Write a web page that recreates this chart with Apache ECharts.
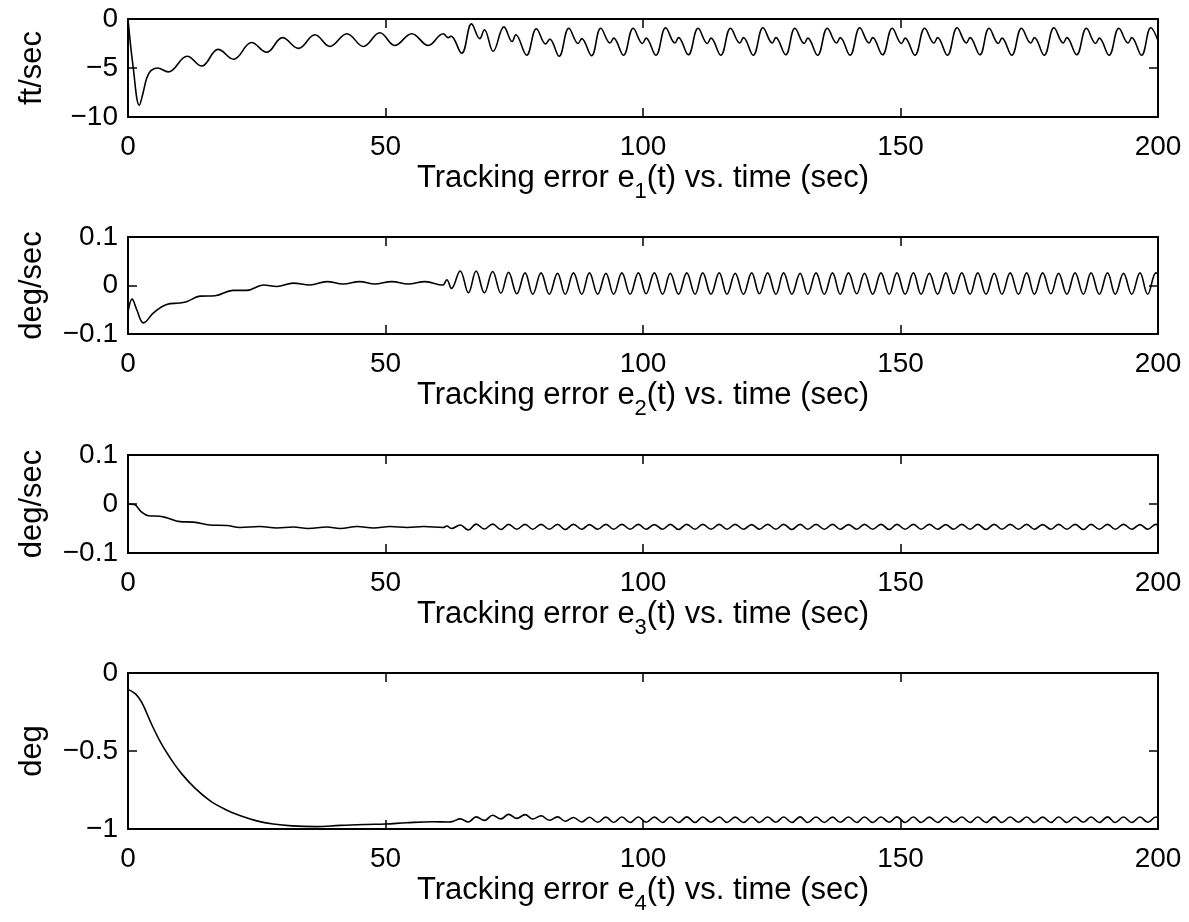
<!DOCTYPE html>
<html>
<head>
<meta charset="utf-8">
<script src="https://cdn.jsdelivr.net/npm/echarts@6/dist/echarts.min.js"></script>
<style>html,body{margin:0;padding:0;background:#fff}#chart{width:1189px;height:922px}</style>
</head>
<body>
<div id="chart"></div>
<script>
// ---------------- data ----------------
const xTickValues = [0, 50, 100, 150, 200];
const yNames = ['ft/sec', 'deg/sec', 'deg/sec', 'deg'];
const xNames = [
  'Tracking error e{s|1}(t) vs. time (sec)',
  'Tracking error e{s|2}(t) vs. time (sec)',
  'Tracking error e{s|3}(t) vs. time (sec)',
  'Tracking error e{s|4}(t) vs. time (sec)'
];
const yMins = [-10, -0.1, -0.1, -1];
const yMaxs = [0, 0.1, 0.1, 0];
const yIntervals = [5, 0.1, 0.1, 0.5];

// e1 (ft/sec): [time, value]
const e1Data = [
  [0,0],[1.0,-4.9],[2.2,-8.8],[2.9,-7.6],[3.6,-6.1],[4.4,-5.3],[5.7,-5.0],[7.8,-5.4],[11.5,-3.8],[14.3,-4.8],
  [17.5,-3.1],[20.5,-4.1],[24.0,-2.4],[26.9,-3.4],[30.0,-1.9],[33.1,-3.0],[36.3,-1.6],[39.2,-2.8],
  [42.5,-1.5],[45.7,-2.8],[48.9,-1.4],[51.8,-2.7],[55.1,-1.5],[58.3,-2.7],[61.2,-1.5],[62.2,-1.9],
  [62.7,-1.75],[64.8,-3.5],
  [66.7,-0.5],[68.3,-2.0],[69.2,-1.1],[70.9,-3.3],
  [73.0,-0.8],[74.6,-2.3],[75.3,-1.6],[77.4,-3.7],
  [79.3,-1.0],[81.1,-2.55],[81.9,-2.05],[83.7,-3.8],
  [85.6,-0.95],[87.4,-2.5],[88.1,-2.0],[90.0,-3.75],
  [91.8,-0.95],[93.6,-2.45],[94.3,-1.95],[96.2,-3.7],
  [98.1,-0.95],[99.9,-2.5],[100.6,-1.95],[102.5,-3.7],
  [104.4,-0.9],[106.2,-2.45],[106.9,-1.9],[108.8,-3.65],
  [110.7,-0.95],[112.5,-2.5],[113.2,-1.95],[115.1,-3.7],
  [117.0,-0.95],[118.8,-2.45],[119.5,-1.9],[121.4,-3.7],
  [123.3,-0.9],[125.1,-2.45],[125.8,-1.9],[127.7,-3.65],
  [129.5,-0.95],[131.3,-2.5],[132.0,-1.95],[133.9,-3.7],
  [135.8,-0.95],[137.6,-2.45],[138.3,-1.9],[140.2,-3.7],
  [142.1,-0.9],[143.9,-2.45],[144.6,-1.9],[146.5,-3.65],
  [148.4,-0.95],[150.2,-2.5],[150.9,-1.95],[152.8,-3.7],
  [154.7,-0.95],[156.5,-2.45],[157.2,-1.9],[159.1,-3.7],
  [161.0,-0.9],[162.8,-2.45],[163.5,-1.9],[165.4,-3.65],
  [167.2,-0.95],[169.0,-2.5],[169.7,-1.95],[171.6,-3.7],
  [173.5,-0.95],[175.3,-2.45],[176.0,-1.9],[177.9,-3.7],
  [179.8,-0.9],[181.6,-2.45],[182.3,-1.9],[184.2,-3.65],
  [186.1,-0.95],[187.9,-2.5],[188.6,-1.95],[190.5,-3.7],
  [192.4,-0.95],[194.2,-2.45],[194.9,-1.9],[196.8,-3.7],
  [198.6,-0.9],[200,-2.2]
];

// slow start of e2, e3, e4: [time, value]
const e2Head = [
  [0,-0.055],[0.8,-0.028],[1.7,-0.05],[3.0,-0.077],[5.0,-0.056],[7.5,-0.039],[10.0,-0.036],[11.5,-0.033],
  [14.0,-0.022],[16.9,-0.021],[20.4,-0.01],[23.0,-0.01],[26.3,0.001],[28.9,-0.002],[32.1,0.005],
  [35.3,0.001],[38.6,0.008],[41.8,0.003],[45.0,0.008],[47.9,0.003],[51.2,0.008],[54.4,0.003],
  [57.7,0.008],[61.1,0.001],[61.9,0.012],[62.8,-0.006]
];
const e3Head = [
  [0,0.0],[1.2,-0.001],[2.6,-0.016],[4.0,-0.024],[6.2,-0.025],[7.5,-0.028],[10.1,-0.036],[12.7,-0.037],
  [15.9,-0.043],[19.2,-0.044],[21.7,-0.048],[25.6,-0.046],[28.9,-0.049],[32.1,-0.047],[35.0,-0.05],
  [38.6,-0.047],[41.2,-0.05],[44.5,-0.046],[47.7,-0.049],[50.9,-0.046],[54.2,-0.048],[57.4,-0.046],
  [61.2,-0.048],[61.9,-0.045],[62.8,-0.05]
];
const e4Head = [
  [0,-0.105],[1.5,-0.135],[2.7,-0.19],[4.6,-0.33],[6.5,-0.455],[8.5,-0.56],[10.4,-0.645],[13.0,-0.738],
  [15.9,-0.818],[18.8,-0.873],[21.7,-0.914],[25.0,-0.948],[28.2,-0.968],[31.8,-0.98],[36.6,-0.985],
  [41.2,-0.977],[46.3,-0.971],[50.0,-0.968],[54.1,-0.96],[59.3,-0.954],[62.2,-0.955],[63.1,-0.951]
];

// times of the peaks / troughs of the steady oscillation (shared by e2, e3, e4)
const waveT = [
  64.5, 66.1, 67.6, 69.2, 70.8, 72.4, 73.9, 75.5, 77.1, 78.6,
  80.2, 81.8, 83.4, 84.9, 86.5, 88.1, 89.6, 91.2, 92.8, 94.3,
  95.9, 97.5, 99.1, 100.6, 102.2, 103.8, 105.3, 106.9, 108.5, 110.1,
  111.6, 113.2, 114.8, 116.3, 117.9, 119.5, 121.1, 122.6, 124.2, 125.8,
  127.3, 128.9, 130.5, 132.0, 133.6, 135.2, 136.8, 138.3, 139.9, 141.5,
  143.0, 144.6, 146.2, 147.8, 149.3, 150.9, 152.5, 154.0, 155.6, 157.2,
  158.8, 160.3, 161.9, 163.5, 165.0, 166.6, 168.2, 169.7, 171.3, 172.9,
  174.5, 176.0, 177.6, 179.2, 180.7, 182.3, 183.9, 185.5, 187.0, 188.6,
  190.2, 191.7, 193.3, 194.9, 196.5, 198.0, 199.6, 200
];
const e2Wave = [
  0.030, -0.015, 0.030, -0.015, 0.029, -0.016, 0.027, -0.017, 0.026, -0.018,
  0.026, -0.018, 0.025, -0.018, 0.026, -0.018, 0.026, -0.018, 0.025, -0.018,
  0.026, -0.018, 0.026, -0.017, 0.026, -0.018, 0.025, -0.018, 0.026, -0.018,
  0.026, -0.018, 0.026, -0.018, 0.025, -0.018, 0.026, -0.017, 0.026, -0.018,
  0.026, -0.018, 0.025, -0.018, 0.026, -0.018, 0.026, -0.018, 0.026, -0.017,
  0.025, -0.018, 0.026, -0.018, 0.026, -0.018, 0.026, -0.018, 0.025, -0.018,
  0.026, -0.017, 0.026, -0.018, 0.026, -0.018, 0.025, -0.018, 0.026, -0.018,
  0.026, -0.018, 0.026, -0.017, 0.025, -0.018, 0.026, -0.018, 0.026, -0.018,
  0.026, -0.018, 0.025, -0.018, 0.026, -0.018, 0.026, 0.024
];
const e3Wave = [
  -0.043, -0.053, -0.041, -0.051, -0.041, -0.052, -0.0415, -0.0515, -0.0415, -0.0515,
  -0.0415, -0.0515, -0.0415, -0.052, -0.0415, -0.0515, -0.042, -0.0515, -0.0415, -0.0515,
  -0.0415, -0.0515, -0.0415, -0.0515, -0.042, -0.0515, -0.0415, -0.052, -0.0415, -0.0515,
  -0.0415, -0.0515, -0.0415, -0.0515, -0.0415, -0.0515, -0.042, -0.0515, -0.0415, -0.0515,
  -0.0415, -0.052, -0.0415, -0.0515, -0.0415, -0.0515, -0.0415, -0.0515, -0.042, -0.0515,
  -0.0415, -0.0515, -0.0415, -0.052, -0.0415, -0.0515, -0.0415, -0.0515, -0.0415, -0.0515,
  -0.042, -0.0515, -0.0415, -0.0515, -0.0415, -0.052, -0.0415, -0.0515, -0.0415, -0.0515,
  -0.0415, -0.0515, -0.042, -0.0515, -0.0415, -0.0515, -0.0415, -0.052, -0.0415, -0.0515,
  -0.0415, -0.0515, -0.0415, -0.0515, -0.042, -0.0515, -0.0415, -0.043
];
const e4Wave = [
  -0.935, -0.955, -0.922, -0.945, -0.912, -0.935, -0.906, -0.932, -0.908, -0.936,
  -0.915, -0.944, -0.922, -0.950, -0.926, -0.955, -0.925, -0.957, -0.924, -0.958,
  -0.923, -0.958, -0.923, -0.957, -0.924, -0.958, -0.923, -0.958, -0.922, -0.958,
  -0.923, -0.957, -0.923, -0.958, -0.924, -0.958, -0.923, -0.958, -0.923, -0.957,
  -0.923, -0.958, -0.922, -0.958, -0.923, -0.958, -0.924, -0.957, -0.923, -0.958,
  -0.923, -0.958, -0.923, -0.957, -0.922, -0.958, -0.923, -0.958, -0.924, -0.958,
  -0.923, -0.957, -0.923, -0.958, -0.923, -0.958, -0.922, -0.958, -0.923, -0.957,
  -0.923, -0.958, -0.924, -0.958, -0.923, -0.958, -0.923, -0.957, -0.923, -0.958,
  -0.922, -0.958, -0.923, -0.958, -0.923, -0.957, -0.923, -0.926
];

// ---------------- chart ----------------
const FONT = "'Liberation Sans', Arial, Helvetica, sans-serif";
const gridBoxes = [
  {top: 19, height: 98},
  {top: 237, height: 97},
  {top: 455, height: 98},
  {top: 673, height: 156}
];
const withWave = (head, wave) => head.concat(waveT.map((t, i) => [t, wave[i]]));
const seriesData = [e1Data, withWave(e2Head, e2Wave), withWave(e3Head, e3Wave), withWave(e4Head, e4Wave)];

function fmtY(v) {
  const r = Math.round(v * 1000) / 1000;
  if (r === 0) return '0';
  return (r < 0 ? '\u2212' : '') + String(Math.abs(r));
}

const axisLine = {show: true, onZero: false, lineStyle: {color: '#000', width: 2}};
const axisTick = {show: true, inside: true, length: 9, lineStyle: {color: '#000', width: 1.5}};

const grid = [], xAxis = [], yAxis = [], series = [];
gridBoxes.forEach((g, i) => {
  grid.push({left: 128, width: 1030, top: g.top, height: g.height, containLabel: false});
  xAxis.push({
    gridIndex: i, type: 'value', position: 'bottom',
    min: xTickValues[0], max: xTickValues[xTickValues.length - 1], interval: xTickValues[1] - xTickValues[0],
    axisLine, axisTick, splitLine: {show: false},
    axisLabel: {show: true, margin: 16, color: '#000', fontSize: 28, fontFamily: FONT},
    name: xNames[i], nameLocation: 'middle', nameGap: 36, nameMoveOverlap: false,
    nameTextStyle: {
      color: '#000', fontSize: 31, fontFamily: FONT, lineHeight: 50,
      rich: {s: {fontSize: 22, fontFamily: FONT, color: '#000', lineHeight: 8, verticalAlign: 'bottom'}}
    }
  });
  xAxis.push({
    gridIndex: i, type: 'value', position: 'top',
    min: xTickValues[0], max: xTickValues[xTickValues.length - 1], interval: xTickValues[1] - xTickValues[0],
    axisLine, axisTick, splitLine: {show: false}, axisLabel: {show: false}
  });
  yAxis.push({
    gridIndex: i, type: 'value', position: 'left',
    min: yMins[i], max: yMaxs[i], interval: yIntervals[i],
    axisLine, axisTick, splitLine: {show: false},
    axisLabel: {show: true, margin: 10, color: '#000', fontSize: 28, fontFamily: FONT, formatter: fmtY},
    name: yNames[i], nameLocation: 'middle', nameGap: 80, nameRotate: 90, nameMoveOverlap: false,
    nameTextStyle: {color: '#000', fontSize: 31, fontFamily: FONT}
  });
  yAxis.push({
    gridIndex: i, type: 'value', position: 'right',
    min: yMins[i], max: yMaxs[i], interval: yIntervals[i],
    axisLine, axisTick, splitLine: {show: false}, axisLabel: {show: false}
  });
  series.push({
    type: 'line', xAxisIndex: 2 * i, yAxisIndex: 2 * i,
    data: seriesData[i], showSymbol: false, symbol: 'none',
    smooth: 0.4, clip: true, silent: true,
    lineStyle: {color: '#000', width: 1.6}
  });
});

const chart = echarts.init(document.getElementById('chart'), null, {renderer: 'canvas'});
chart.setOption({
  animation: false,
  backgroundColor: '#fff',
  grid, xAxis, yAxis, series
});
</script>
</body>
</html>
